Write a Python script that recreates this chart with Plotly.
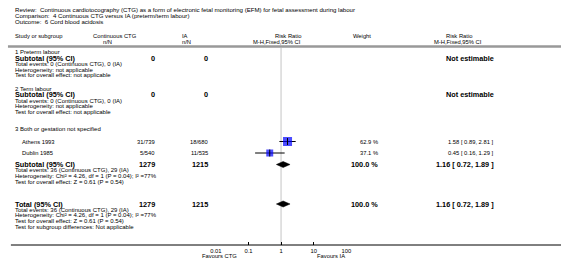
import plotly.graph_objects as go

# ---------------- data ----------------
studies = ["Athens 1993", "Dublin 1985"]
ctg_events = [31, 5]
ctg_total = [739, 540]
ia_events = [18, 11]
ia_total = [680, 535]
weights = [62.9, 37.1]
rr = [1.58, 0.45]
rr_lo = [0.89, 0.16]
rr_hi = [2.81, 1.29]

sub_rr, sub_lo, sub_hi = 1.16, 0.72, 1.89
sub_ctg_n, sub_ia_n = 1279, 1215
tot_rr, tot_lo, tot_hi = 1.16, 0.72, 1.89
tot_ctg_n, tot_ia_n = 1279, 1215

axis_ticks = [0.01, 0.1, 1, 10, 100]
axis_ticktext = ["0.01", "0.1", "1", "10", "100"]

W, H = 566, 264
FONT = "Liberation Sans, Arial, sans-serif"
fs_head = 6.1
fs_col = 5.8
fs_small = 6.0
fs_row = 5.8
fs_bold = 7.3

fig = go.Figure()

annotations = []


def txt(x, y, s, size=fs_small, bold=False, anchor="left", color="#000"):
    if bold:
        s = "<b>" + s + "</b>"
    annotations.append(dict(x=x, y=y, xref="x", yref="y", text=s, showarrow=False,
                            xanchor=anchor, yanchor="middle", borderpad=0,
                            font=dict(family=FONT, size=size, color=color)))


# header
txt(8, 9, "Review:  Continuous cardiotocography (CTG) as a form of electronic fetal monitoring (EFM) for fetal assessment during labour", size=fs_head)
txt(8, 15, "Comparison:  4 Continuous CTG versus IA (preterm/term labour)", size=fs_head)
txt(8, 21, "Outcome:  6 Cord blood acidosis", size=fs_head)
txt(8, 36, "Study or subgroup", size=fs_col)
txt(111, 36, "Continuous CTG", size=fs_col, anchor="center")
txt(104, 41.5, "n/N", size=fs_col, anchor="center")
txt(178, 36, "IA", size=fs_col)
txt(178, 41.5, "n/N", size=fs_col)
txt(288, 36, "Risk Ratio", size=fs_col, anchor="center")
txt(276, 41.5, "M-H,Fixed,95% CI", size=fs_col, anchor="center")
txt(353, 36, "Weight", size=fs_col)
txt(462, 36, "Risk Ratio", size=fs_col, anchor="center")
txt(461, 41.5, "M-H,Fixed,95% CI", size=fs_col, anchor="center")

X_CTG, X_IA, X_W, X_RR = 153, 207, 380, 499
SP = 5.7

# subgroup 1 & 2
for y0, name in [(52, "1 Preterm labour"), (88.5, "2 Term labour")]:
    txt(8, y0, name)
    txt(8, y0 + 6.3, "Subtotal (95% CI)", size=fs_bold, bold=True)
    txt(X_CTG, y0 + 6.3, "0", size=fs_bold, bold=True, anchor="right")
    txt(X_IA, y0 + 6.3, "0", size=fs_bold, bold=True, anchor="right")
    txt(X_RR, y0 + 6.3, "Not estimable", size=fs_bold, bold=True, anchor="right")
    txt(8, y0 + 6.3 + SP, "Total events: 0 (Continuous CTG), 0 (IA)")
    txt(8, y0 + 6.3 + 2 * SP, "Heterogeneity: not applicable")
    txt(8, y0 + 6.3 + 3 * SP, "Test for overall effect: not applicable")

txt(8, 128.5, "3 Both or gestation not specified")
study_y = [141.5, 153]
for i, s in enumerate(studies):
    y = study_y[i]
    txt(15, y, s, size=fs_row)
    txt(X_CTG, y, f"{ctg_events[i]}/{ctg_total[i]}", size=fs_row, anchor="right")
    txt(X_IA, y, f"{ia_events[i]}/{ia_total[i]}", size=fs_row, anchor="right")
    txt(X_W, y, f"{weights[i]:.1f} %", size=fs_row, anchor="right")
    txt(X_RR, y, f"{rr[i]:.2f} [ {rr_lo[i]:.2f}, {rr_hi[i]:.2f} ]", size=fs_row, anchor="right")

ev_c = sum(ctg_events)
ev_i = sum(ia_events)
for y0, label, n1, n2, r, lo, hi, extra in [
        (164.5, "Subtotal (95% CI)", sub_ctg_n, sub_ia_n, sub_rr, sub_lo, sub_hi, False),
        (204, "Total (95% CI)", tot_ctg_n, tot_ia_n, tot_rr, tot_lo, tot_hi, True)]:
    txt(8, y0, label, size=fs_bold, bold=True)
    txt(X_CTG, y0, str(n1), size=fs_bold, bold=True, anchor="right")
    txt(X_IA, y0, str(n2), size=fs_bold, bold=True, anchor="right")
    txt(X_W, y0, "100.0 %", size=fs_bold, bold=True, anchor="right")
    txt(X_RR, y0, f"{r:.2f} [ {lo:.2f}, {hi:.2f} ]", size=fs_bold, bold=True, anchor="right")
    txt(8, y0 + SP, f"Total events: {ev_c} (Continuous CTG), {ev_i} (IA)")
    txt(8, y0 + 2 * SP, "Heterogeneity: Chi² = 4.26, df = 1 (P = 0.04); I² =77%")
    txt(8, y0 + 3 * SP, "Test for overall effect: Z = 0.61 (P = 0.54)")
    if extra:
        txt(8, y0 + 4 * SP, "Test for subgroup differences: Not applicable")

txt(218, 256, "Favours CTG", size=fs_row, anchor="center")
txt(331, 256, "Favours IA", size=fs_row, anchor="center")

# ---------------- forest plot on log axis ----------------
cx, cy = [], []
for i in range(len(studies)):
    cx += [rr_lo[i], rr_hi[i], None]
    cy += [study_y[i], study_y[i], None]
fig.add_trace(go.Scatter(x=cx, y=cy, mode="lines", line=dict(color="#000", width=1),
                         xaxis="x2", yaxis="y2", hoverinfo="skip", showlegend=False))
fig.add_trace(go.Scatter(x=rr, y=study_y, mode="markers",
                         marker=dict(symbol="square", color="#0000ff",
                                     size=[4 + w * 0.08 for w in weights], line=dict(width=0)),
                         xaxis="x2", yaxis="y2", showlegend=False))
fig.add_trace(go.Scatter(x=rr, y=study_y, mode="markers",
                         marker=dict(symbol="line-ns", size=5, line=dict(color="#000", width=1)),
                         xaxis="x2", yaxis="y2", showlegend=False))
for (yy, r, lo, hi) in [(164.5, sub_rr, sub_lo, sub_hi), (204, tot_rr, tot_lo, tot_hi)]:
    fig.add_trace(go.Scatter(x=[lo, r, hi, r, lo], y=[yy, yy - 3, yy, yy + 3, yy],
                             mode="lines", fill="toself", fillcolor="#000",
                             line=dict(color="#000", width=0.5),
                             xaxis="x2", yaxis="y2", showlegend=False, hoverinfo="skip"))

shapes = [
    dict(type="line", xref="x", yref="y", x0=2, x1=566, y0=46.5, y1=46.5,
         line=dict(color="#999", width=2.5)),
    dict(type="line", xref="x2", yref="y2", x0=1, x1=1, y0=48, y1=245,
         line=dict(color="#d8d8d8", width=1.5), layer="below"),
    dict(type="line", xref="x", yref="y", x0=5, x1=566, y0=245, y1=245,
         line=dict(color="#000", width=1)),
]

fig.update_layout(
    width=W, height=H, autosize=False,
    margin=dict(l=0, r=0, t=0, b=0),
    paper_bgcolor="#fff", plot_bgcolor="rgba(0,0,0,0)",
    xaxis=dict(range=[0, W], domain=[0, 1], visible=False, fixedrange=True),
    yaxis=dict(range=[H, 0], domain=[0, 1], visible=False, fixedrange=True),
    xaxis2=dict(type="log", range=[-2, 2], domain=[214 / W, 347 / W], anchor="y2",
                tickvals=axis_ticks, ticktext=axis_ticktext, ticks="inside", ticklen=3,
                tickcolor="#000", tickwidth=1, showgrid=False, zeroline=False, showline=False,
                ticklabelstandoff=1, fixedrange=True,
                tickfont=dict(family=FONT, size=fs_row, color="#000")),
    yaxis2=dict(range=[245, 0], domain=[1 - 245 / H, 1], anchor="x2", visible=False,
                fixedrange=True),
    annotations=annotations,
    shapes=shapes,
    showlegend=False,
    hovermode=False,
)

fig.write_html("out.html", config={"displayModeBar": False, "staticPlot": True},
               post_script="document.body.style.margin='0';document.body.style.overflow='hidden';")
